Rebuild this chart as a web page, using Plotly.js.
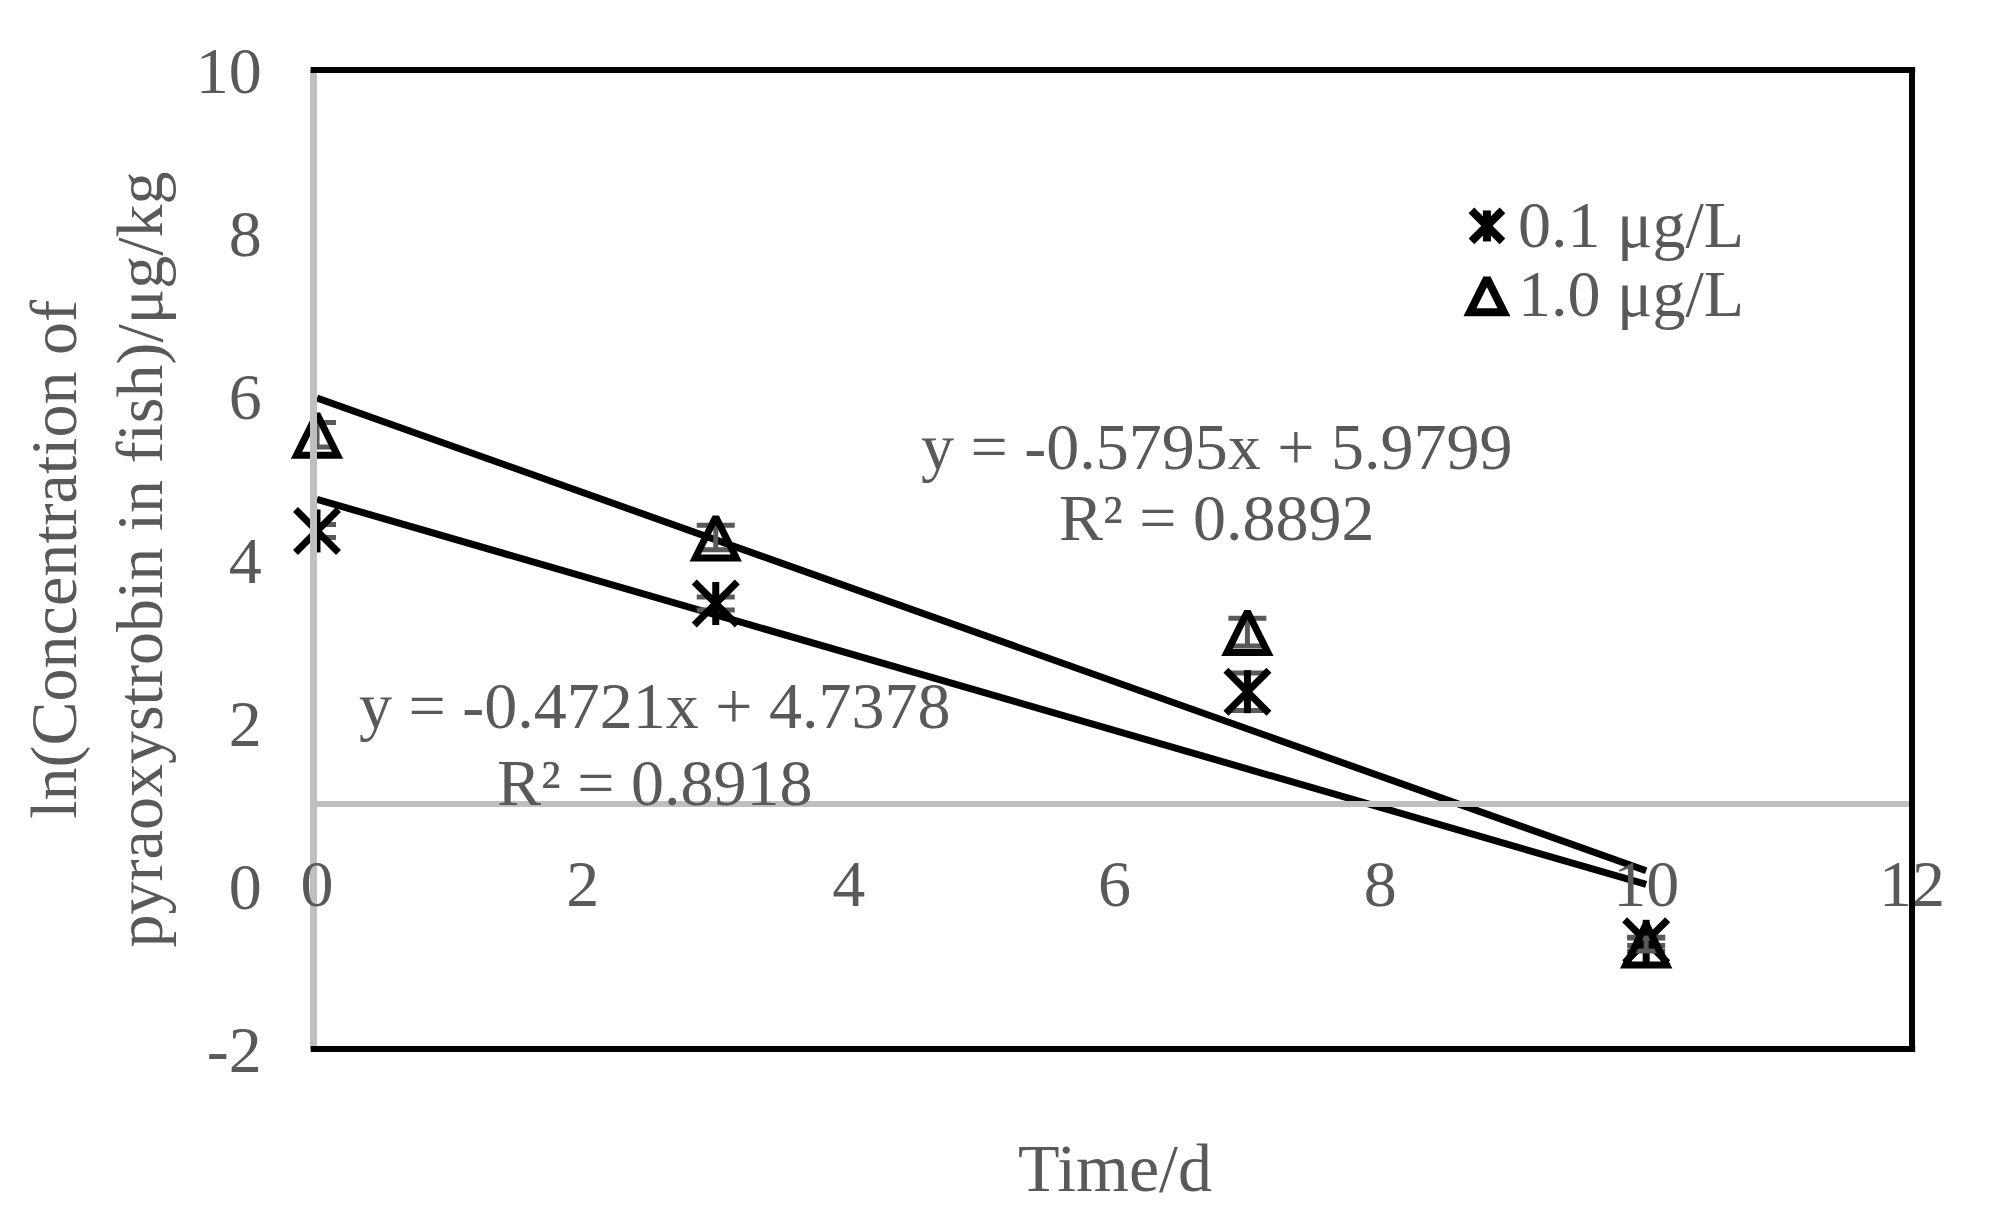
<!DOCTYPE html>
<html>
<head>
<meta charset="utf-8">
<script src="https://cdn.plot.ly/plotly-3.0.1.min.js"></script>
<style>
  html, body { margin: 0; padding: 0; background: #fff; }
  #chart { width: 1991px; height: 1228px; }
</style>
</head>
<body>
<div id="chart"></div>
<script>
// ln(concentration) of pyraoxystrobin in fish vs. time, two exposure levels
const DAYS = [0, 3, 7, 10];
const LOW_NAME = '0.1 μg/L';
const LOW_MEAN = [4.35, 3.46, 2.38, -0.68];
const LOW_SD = [0.08, 0.08, 0.23, 0.05];
const HIGH_NAME = '1.0 μg/L';
const HIGH_MEAN = [5.53, 4.27, 3.11, -0.72];
const HIGH_SD = [0.15, 0.15, 0.17, 0.08];

// linear trendlines as printed on the chart
const LOW_FIT = { slope: -0.4721, intercept: 4.7378, r2: '0.8918' };
const HIGH_FIT = { slope: -0.5795, intercept: 5.9799, r2: '0.8892' };
const FIT_X = [0, 10];

const X_TICKS = [0, 2, 4, 6, 8, 10, 12];
const Y_TICKS = [-2, 0, 2, 4, 6, 8, 10];
const Y_TICK_TEXT = ['-2', '0', '2', '4', '6', '8', '10'];

const SERIF = 'Liberation Serif, Times New Roman, serif';
const TXT = '#595959';
const GREY = '#bfbfbf';

const STAR = 43, TRI = 41;

function fitLine(f) {
  return FIT_X.map(x => f.slope * x + f.intercept);
}
function eqText(f) {
  return 'y = ' + f.slope.toFixed(4) + 'x + ' + f.intercept.toFixed(4);
}

const errStyle = { type: 'data', color: TXT, thickness: 5, width: 19 };

const traces = [
  // trendlines
  { x: FIT_X, y: fitLine(HIGH_FIT), mode: 'lines', line: { color: '#000', width: 7 }, showlegend: false, hoverinfo: 'skip' },
  { x: FIT_X, y: fitLine(LOW_FIT), mode: 'lines', line: { color: '#000', width: 7 }, showlegend: false, hoverinfo: 'skip' },
  // 0.1 µg/L : six-arm star = x + vertical bar
  { x: DAYS, y: LOW_MEAN, mode: 'markers', name: LOW_NAME, cliponaxis: false,
    error_y: Object.assign({ array: LOW_SD }, errStyle),
    marker: { symbol: 'x-thin-open', size: STAR, color: '#000', line: { color: '#000', width: 7 } } },
  { x: DAYS, y: LOW_MEAN, mode: 'markers', cliponaxis: false,
    marker: { symbol: 'line-ns-open', size: STAR / 1.4, color: '#000', line: { color: '#000', width: 7 } } },
  // 1.0 µg/L : open triangle (arrow flipped & centred so it is as tall as wide)
  { x: DAYS, y: HIGH_MEAN, mode: 'markers', name: HIGH_NAME, cliponaxis: false,
    error_y: Object.assign({ array: HIGH_SD }, errStyle),
    marker: { symbol: 'arrow-down-open', angle: 180, standoff: TRI / 2, size: TRI, color: '#000',
              line: { color: '#000', width: 7 } } },
  // hand-made legend symbols (plotly caps legend markers at 16px)
  { x: [0.7335], y: [0.8407], xaxis: 'x2', yaxis: 'y2', mode: 'markers', cliponaxis: false, hoverinfo: 'skip',
    marker: { symbol: 'x-thin-open', size: 31, color: '#000', line: { color: '#000', width: 8 } } },
  { x: [0.7335], y: [0.8407], xaxis: 'x2', yaxis: 'y2', mode: 'markers', cliponaxis: false, hoverinfo: 'skip',
    marker: { symbol: 'line-ns-open', size: 31 / 1.4, color: '#000', line: { color: '#000', width: 8 } } },
  { x: [0.7335], y: [0.770], xaxis: 'x2', yaxis: 'y2', mode: 'markers', cliponaxis: false, hoverinfo: 'skip',
    marker: { symbol: 'arrow-down-open', angle: 180, standoff: 17, size: 34, color: '#000', line: { color: '#000', width: 8 } } }
];

const annotations = [
  { text: eqText(HIGH_FIT), x: 6.77, y: 5.38 },
  { text: 'R² = ' + HIGH_FIT.r2, x: 6.77, y: 4.51 },
  { text: eqText(LOW_FIT), x: 2.54, y: 2.21 },
  { text: 'R² = ' + LOW_FIT.r2, x: 2.54, y: 1.27 }
].map(a => Object.assign({ xref: 'x', yref: 'y', showarrow: false, xanchor: 'center', yanchor: 'middle',
  font: { family: SERIF, size: 66, color: TXT } }, a));

annotations.push(
  { text: LOW_NAME, xref: 'paper', yref: 'paper', x: 0.752, y: 0.842, xanchor: 'left', yanchor: 'middle',
    showarrow: false, font: { family: SERIF, size: 66, color: TXT } },
  { text: HIGH_NAME, xref: 'paper', yref: 'paper', x: 0.752, y: 0.772, xanchor: 'left', yanchor: 'middle',
    showarrow: false, font: { family: SERIF, size: 66, color: TXT } },
  { text: 'Time/d', xref: 'paper', yref: 'paper', x: 0.5, y: -0.122, xanchor: 'center', yanchor: 'middle',
    showarrow: false, font: { family: SERIF, size: 68, color: TXT } },
  { text: 'ln(Concentration of<br>pyraoxystrobin in fish)/μg/kg', xref: 'paper', yref: 'paper',
    x: -0.138, y: 0.5, xanchor: 'center', yanchor: 'middle', textangle: -90,
    showarrow: false, font: { family: SERIF, size: 66, color: TXT } }
);

const frame = { type: 'line', xref: 'paper', yref: 'paper', line: { color: '#000', width: 6 } };
const shapes = [
  Object.assign({ x0: -0.004, x1: 1.002, y0: 1, y1: 1 }, frame),
  Object.assign({ x0: -0.004, x1: 1.002, y0: 0, y1: 0 }, frame),
  Object.assign({ x0: 1, x1: 1, y0: 0, y1: 1 }, frame)
];

const layout = {
  width: 1991, height: 1228,
  margin: { l: 317, r: 79, t: 70, b: 179 },
  paper_bgcolor: '#fff', plot_bgcolor: '#fff',
  showlegend: false,
  font: { family: SERIF, color: TXT },
  xaxis: {
    range: [0, 12], tickvals: X_TICKS, ticks: '', showgrid: false, zeroline: false,
    anchor: 'free', position: 0.25,
    showline: true, linecolor: GREY, linewidth: 6,
    ticklabelstandoff: 20,
    tickfont: { family: SERIF, size: 66, color: TXT }
  },
  yaxis: {
    range: [-2, 10], tickvals: Y_TICKS, ticktext: Y_TICK_TEXT, ticks: '', showgrid: false, zeroline: false,
    showline: true, linecolor: GREY, linewidth: 7,
    ticklabelstandoff: 35,
    tickfont: { family: SERIF, size: 66, color: TXT }
  },
  xaxis2: { overlaying: 'x', anchor: 'y2', range: [0, 1], visible: false },
  yaxis2: { overlaying: 'y', anchor: 'x2', range: [0, 1], visible: false },
  annotations: annotations,
  shapes: shapes
};

Plotly.newPlot('chart', traces, layout, { displayModeBar: false, staticPlot: true });
</script>
</body>
</html>
